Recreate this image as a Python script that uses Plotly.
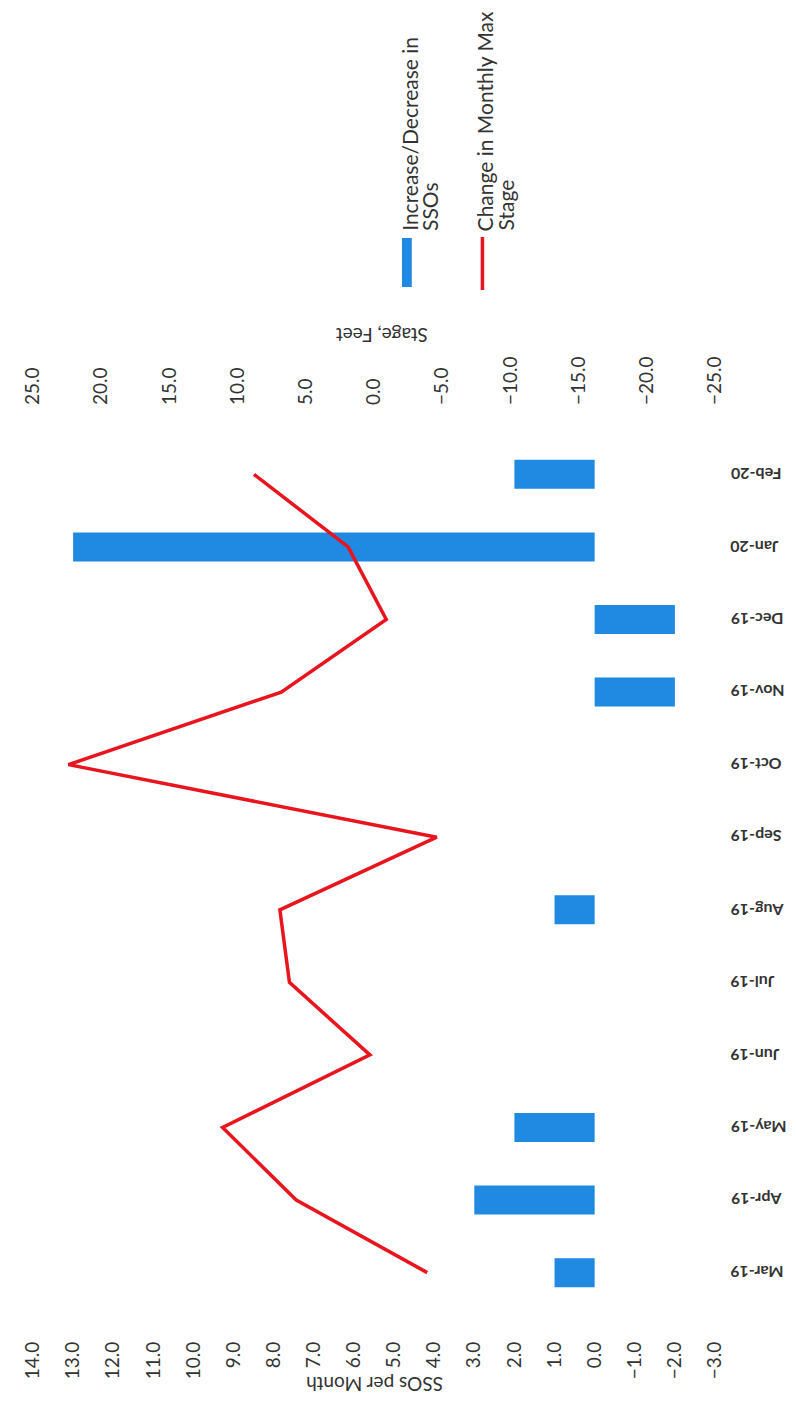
import plotly.graph_objects as go

months = ["Mar-19", "Apr-19", "May-19", "Jun-19", "Jul-19", "Aug-19",
          "Sep-19", "Oct-19", "Nov-19", "Dec-19", "Jan-20", "Feb-20"]
sso_change = [1, 3, 2, 0, 0, 1, 0, 0, -2, -2, 13, 2]
stage_change = [-3.9, 5.7, 11.1, 0.3, 6.2, 6.9, -4.6, 22.4, 6.8, -0.9, 1.9, 8.8]
sso_ticks = list(range(-3, 15))
stage_ticks = list(range(-25, 30, 5))

# browser body margin is 8px: figure coordinates = page coordinates - 8
OFF = 8
W, H = 780, 1400
L, R, T, B = 20, 715, 430, 1317  # plot area in page pixels


def px(x):
    return (x - L) / (R - L)


def py(y):
    return (B - y) / (B - T)


FONT = "Lato"
TXT = "#333333"
BLUE = "#2089E2"
RED = "#E8141E"

fig = go.Figure()
fig.add_trace(go.Bar(
    x=sso_change, y=months, orientation="h", width=0.4,
    marker=dict(color=BLUE, line=dict(width=0)),
    name="Increase/Decrease in SSOs", xaxis="x", yaxis="y",
))
fig.add_trace(go.Scatter(
    x=stage_change, y=months, mode="lines",
    line=dict(color=RED, width=3.5),
    name="Change in Monthly Max Stage", xaxis="x2", yaxis="y",
))

fig.update_layout(
    width=W, height=H,
    margin=dict(l=L - OFF, r=W - (R - OFF), t=T - OFF, b=H - (B - OFF), pad=0),
    plot_bgcolor="white", paper_bgcolor="white",
    showlegend=False,
    font=dict(family=FONT, color=TXT),
    xaxis=dict(
        range=[14, -3], tickvals=sso_ticks, tickformat=".1f",
        tickangle=-90, side="bottom", showgrid=False, zeroline=False,
        showline=False, ticks="", ticklabelstandoff=20,
        ticklabeloverflow="allow",
        tickfont=dict(size=19, color=TXT, family=FONT),
    ),
    xaxis2=dict(
        range=[25, -25], tickvals=stage_ticks, tickformat=".1f",
        tickangle=-90, side="top", overlaying="x", showgrid=False,
        zeroline=False, showline=False, ticks="", ticklabelstandoff=24,
        ticklabeloverflow="allow",
        tickfont=dict(size=19, color=TXT, family=FONT),
    ),
    yaxis=dict(
        type="category", categoryorder="array", categoryarray=months,
        side="right", showgrid=False, zeroline=False,
        showline=False, ticks="", showticklabels=False,
    ),
)

# category labels, upside down and left-aligned next to the plot
for m in months:
    fig.add_annotation(text="<b>" + m + "</b>", xref="paper", yref="y",
                       x=px(729), y=m, xanchor="left", yanchor="middle",
                       textangle=180, showarrow=False,
                       font=dict(size=16, color=TXT, family=FONT))

# axis titles (upside down, as in the scanned page)
fig.add_annotation(text="SSOs per Month", xref="paper", yref="paper",
                   x=px(368), y=py(1398), textangle=180, showarrow=False,
                   font=dict(size=19, color=TXT, family=FONT))
fig.add_annotation(text="Stage, Feet", xref="paper", yref="paper",
                   x=px(375), y=py(322), textangle=180, showarrow=False,
                   font=dict(size=19, color=TXT, family=FONT))

# legend drawn rotated
fig.add_shape(type="rect", xref="paper", yref="paper",
              x0=px(396), x1=px(406), y0=py(287), y1=py(238),
              fillcolor=BLUE, line=dict(width=0))
fig.add_shape(type="line", xref="paper", yref="paper",
              x0=px(478), x1=px(478), y0=py(290), y1=py(237),
              line=dict(color=RED, width=3.5))
legend_lines = [("Increase/Decrease in", 403), ("SSOs", 424),
                ("Change in Monthly Max", 480), ("Stage", 501)]
for txt, cx in legend_lines:
    fig.add_annotation(text=txt, xref="paper", yref="paper",
                       x=px(cx), y=py(233), xanchor="center", yanchor="bottom",
                       textangle=-90, showarrow=False,
                       font=dict(size=21, color=TXT, family=FONT))

fig.write_html("out.html")
